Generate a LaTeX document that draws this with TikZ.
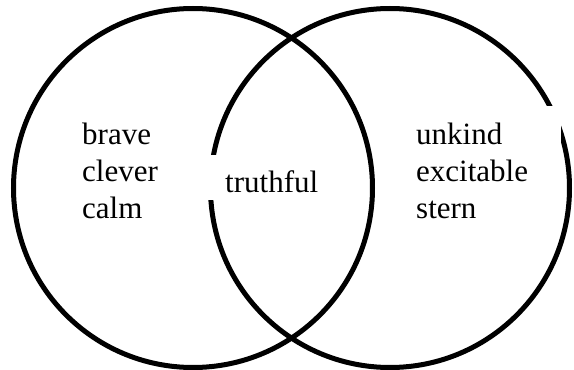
\documentclass[tikz,border=0pt]{standalone}
\usepackage{fontspec}
\setmainfont{Liberation Serif}
\usepackage{tikz}
\usetikzlibrary{positioning}

\begin{document}
\begin{tikzpicture}[x=1pt,y=1pt,
    set/.style={circle,draw=black,line width=5pt,minimum size=359pt,inner sep=0pt},
    words/.style={fill=white,align=left,inner xsep=0pt,inner ysep=0pt,
      font=\rmfamily\fontsize{31}{37}\selectfont}
  ]
    \useasboundingbox (0,0) rectangle (574,370);
    \node[set] (leftset) at (193,182) {};
    \node[set] (rightset) at (390,182) {};
    \node[words,text width=90pt,anchor=base west] (brave) at (82,225) {brave\\clever\\calm};
    \node[words,inner xsep=20pt,text height=38pt,text depth=7pt,anchor=base west]
      (truthful) at (205,177) {truthful};
    \node[words,text width=145pt,anchor=base west] (unkind) at (416,225)
      {\rule{0pt}{39pt}unkind\\excitable\\stern};
  \end{tikzpicture}
\end{document}
